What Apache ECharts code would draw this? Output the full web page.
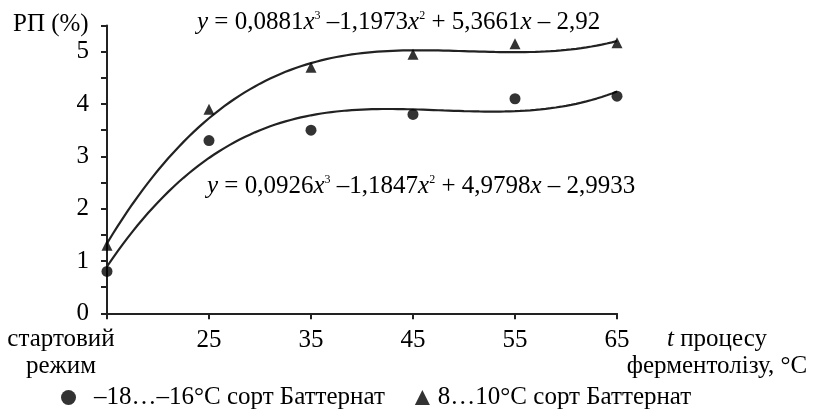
<!DOCTYPE html>
<html>
<head>
<meta charset="utf-8">
<script src="https://cdn.jsdelivr.net/npm/echarts@6/dist/echarts.min.js"></script>
<style>
  html, body { margin: 0; padding: 0; background: #fff; }
  #chart { width: 814px; height: 409px; }
</style>
</head>
<body>
<div id="chart"></div>
<script>
// categories on the x axis (x = 1..6)
var categories = ['стартовий\nрежим', '25', '35', '45', '55', '65'];
var xIndex = [1, 2, 3, 4, 5, 6];
// -18...-16 °C (circles)
var frozenValues = [0.8, 3.3, 3.5, 3.8, 4.1, 4.15];
// 8...10 °C (triangles)
var chilledValues = [1.3, 3.9, 4.7, 4.95, 5.15, 5.17];
// trendline coefficients from the chart: a*x^3 + b*x^2 + c*x + d
var frozenCoef = [0.0926, -1.1847, 4.9798, -2.9933];
var chilledCoef = [0.0881, -1.1973, 5.3661, -2.92];
var yTicks = [0, 1, 2, 3, 4, 5];

var FONT = '"Liberation Serif", "Times New Roman", serif';
var FS = 25;

function pairs(vals) {
    return xIndex.map(function (x, i) { return [x, vals[i]]; });
}
// trendline from the printed cubic
function trend(coef) {
    var out = [];
    for (var k = 0; k <= 100; k++) {
        var x = 1 + k * 0.05;
        out.push([x, ((coef[0] * x + coef[1]) * x + coef[2]) * x + coef[3]]);
    }
    return out;
}

var chart = echarts.init(document.getElementById('chart'));

var eqRich = {
    n: { fontFamily: FONT, fontSize: FS, color: '#000' },
    i: { fontFamily: FONT, fontSize: FS, fontStyle: 'italic', color: '#000' },
    s: { fontFamily: FONT, fontSize: 12, color: '#000', verticalAlign: 'top', lineHeight: 12, padding: [0, 0, 12, 0] }
};

var option = {
    animation: false,
    textStyle: { fontFamily: FONT, color: '#000' },
    grid: { left: 107, right: 197, top: 25.5, bottom: 95.7, outerBoundsMode: 'none', containLabel: false },
    xAxis: {
        type: 'value',
        min: 1, max: 6, interval: 1,
        splitLine: { show: false },
        axisLine: { lineStyle: { color: '#222', width: 2 } },
        axisTick: { length: 6, lineStyle: { color: '#222', width: 2 } },
        axisLabel: {
            fontFamily: FONT, fontSize: FS, color: '#000', margin: 15,
            formatter: function (v) {
                var i = xIndex.indexOf(v);
                return i > 0 ? categories[i] : '';
            }
        }
    },
    yAxis: {
        type: 'value',
        min: 0, max: 5.5, interval: 0.5,
        splitLine: { show: false },
        axisLine: { show: true, lineStyle: { color: '#222', width: 2 } },
        axisTick: { show: true, length: 6, lineStyle: { color: '#222', width: 2 } },
        axisLabel: {
            fontFamily: FONT, fontSize: FS, color: '#000', margin: 18,
            formatter: function (v) { return yTicks.indexOf(v) >= 0 ? String(v) : ''; }
        }
    },
    legend: {
        left: 56, top: 380,
        itemWidth: 15, itemHeight: 15, itemGap: 30,
        textStyle: { fontFamily: FONT, fontSize: FS, color: '#000' },
        data: [
            { name: '–18…–16°C сорт Баттернат', icon: 'circle', textStyle: { padding: [0, 0, 0, 13] } },
            { name: '8…10°C сорт Баттернат', icon: 'triangle', textStyle: { padding: [0, 0, 0, 3] } }
        ]
    },
    graphic: [
        {
            type: 'text', left: 13, top: 12,
            style: { text: 'РП (%)', fontFamily: FONT, fontSize: FS, fill: '#000' }
        },
        {
            type: 'text', x: 61, y: 326,
            style: { text: 'стартовий\nрежим', fontFamily: FONT, fontSize: FS, fill: '#000', align: 'center', lineHeight: 27 }
        },
        {
            type: 'text', x: 717, y: 326,
            style: {
                text: '{i|t} процесу\nферментолізу, °C', fontFamily: FONT, fontSize: FS, fill: '#000',
                align: 'center', lineHeight: 27,
                rich: { i: { fontFamily: FONT, fontSize: FS, fontStyle: 'italic', fill: '#000', lineHeight: 27 } }
            }
        },
        {
            type: 'text', x: 197, y: 10,
            style: {
                text: '{i|y}{n| = 0,0881}{i|x}{s|3}{n| –1,1973}{i|x}{s|2}{n| + 5,3661}{i|x}{n| – 2,92}',
                rich: eqRich
            }
        },
        {
            type: 'text', x: 207, y: 174,
            style: {
                text: '{i|y}{n| = 0,0926}{i|x}{s|3}{n| –1,1847}{i|x}{s|2}{n| + 4,9798}{i|x}{n| – 2,9933}',
                rich: eqRich
            }
        }
    ],
    series: [
        {
            name: '–18…–16°C сорт Баттернат',
            type: 'scatter',
            symbol: 'circle', symbolSize: 11,
            itemStyle: { color: '#000' },
            data: pairs(frozenValues),
            z: 3
        },
        {
            name: '8…10°C сорт Баттернат',
            type: 'scatter',
            symbol: 'triangle', symbolSize: 11,
            itemStyle: { color: '#000' },
            data: pairs(chilledValues),
            z: 3
        },
        {
            name: 'trend1', type: 'line', showSymbol: false, silent: true,
            lineStyle: { color: '#222', width: 2.2 },
            data: trend(frozenCoef)
        },
        {
            name: 'trend2', type: 'line', showSymbol: false, silent: true,
            lineStyle: { color: '#222', width: 2.2 },
            data: trend(chilledCoef)
        }
    ]
};

chart.setOption(option);
</script>
</body>
</html>
